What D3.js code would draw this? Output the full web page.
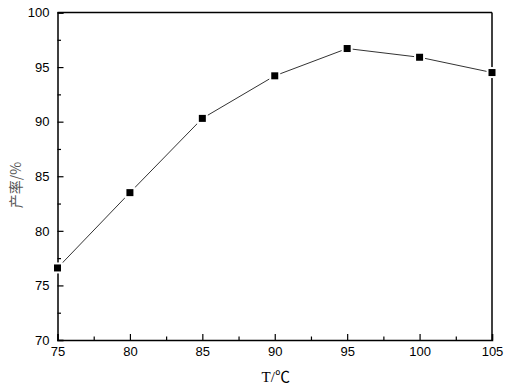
<!DOCTYPE html>
<html lang="zh">
<head>
<meta charset="UTF-8">
<script src="https://d3js.org/d3.v7.min.js"></script>
<style>
  body { margin: 0; background: #fff; }
  text { font-family: "Liberation Sans", Arial, sans-serif; }
</style>
</head>
<body>
<div id="viz"></div>
<script>
  // data
  var temps = [75, 80, 85, 90, 95, 100, 105];
  var yields = [76.6, 83.5, 90.3, 94.2, 96.7, 95.9, 94.5];
  var xTicks = [75, 80, 85, 90, 95, 100, 105];
  var yTicks = [70, 75, 80, 85, 90, 95, 100];

  var width = 506, height = 386;
  var margin = {top: 12.5, right: 14, bottom: 46, left: 57.5};

  var svg = d3.select("#viz").append("svg")
    .attr("width", width)
    .attr("height", height);

  var x = d3.scaleLinear().domain([75, 105]).range([margin.left, width - margin.right]);
  var y = d3.scaleLinear().domain([70, 100]).range([height - margin.bottom, margin.top]);

  // minor ticks (halfway)
  var xMinor = d3.range(77.5, 105, 5);
  var yMinor = d3.range(72.5, 100, 5);

  var g = svg.append("g");

  // bottom axis
  g.append("g")
    .attr("transform", "translate(0," + y(70) + ")")
    .call(d3.axisBottom(x).tickValues(xTicks).tickSize(-6).tickPadding(7));
  g.append("g")
    .attr("transform", "translate(0," + y(70) + ")")
    .call(d3.axisBottom(x).tickValues(xMinor).tickSize(-3.5).tickFormat(""))
    .select(".domain").remove();

  // left axis
  g.append("g")
    .attr("transform", "translate(" + x(75) + ",0)")
    .call(d3.axisLeft(y).tickValues(yTicks).tickSize(-6).tickPadding(8));
  g.append("g")
    .attr("transform", "translate(" + x(75) + ",0)")
    .call(d3.axisLeft(y).tickValues(yMinor).tickSize(-3.5).tickFormat(""))
    .select(".domain").remove();

  // top and right frame lines
  g.append("line")
    .attr("x1", x(75)).attr("x2", x(105))
    .attr("y1", y(100)).attr("y2", y(100))
    .attr("stroke", "#000").attr("stroke-width", 1.5);
  g.append("line")
    .attr("x1", x(105)).attr("x2", x(105))
    .attr("y1", y(100)).attr("y2", y(70))
    .attr("stroke", "#000").attr("stroke-width", 1.5);

  g.selectAll(".domain").attr("stroke-width", 1.5);
  g.selectAll(".tick line").attr("stroke-width", 1.2);
  g.selectAll(".tick text")
    .style("font-size", "13px")
    .attr("fill", "#000");

  // line
  var pts = temps.map(function(t, i) { return [t, yields[i]]; });
  svg.append("path")
    .datum(pts)
    .attr("fill", "none")
    .attr("stroke", "#333")
    .attr("stroke-width", 1)
    .attr("d", d3.line()
      .x(function(d) { return x(d[0]); })
      .y(function(d) { return y(d[1]); }));

  // square markers with a white halo
  svg.selectAll(".halo")
    .data(pts)
    .enter().append("rect")
    .attr("x", function(d) { return x(d[0]) - 5.5; })
    .attr("y", function(d) { return y(d[1]) - 5.5; })
    .attr("width", 11).attr("height", 11)
    .attr("fill", "#fff");
  svg.selectAll(".marker")
    .data(pts)
    .enter().append("rect")
    .attr("x", function(d) { return x(d[0]) - 3.5; })
    .attr("y", function(d) { return y(d[1]) - 3.5; })
    .attr("width", 7).attr("height", 7)
    .attr("fill", "#000");

  // axis titles
  svg.append("text")
    .attr("x", (x(75) + x(105)) / 2 + 1)
    .attr("y", 382)
    .attr("text-anchor", "middle")
    .style("font-family", "'Liberation Serif', 'Times New Roman', 'Noto Sans CJK SC', serif")
    .style("font-size", "15px")
    .text("T/℃");

  svg.append("text")
    .attr("transform", "translate(21,185) rotate(-90)")
    .attr("text-anchor", "middle")
    .style("font-family", "'Noto Sans CJK SC', serif")
    .style("font-size", "14px")
    .attr("fill", "#555")
    .text("产率/%");
</script>
</body>
</html>
